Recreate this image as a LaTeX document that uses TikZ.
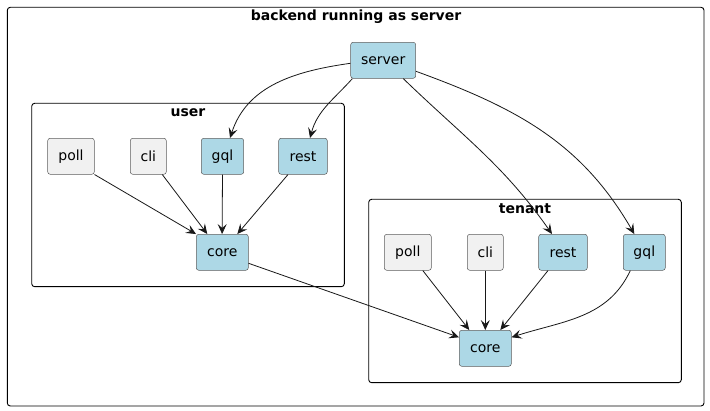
\documentclass[tikz,border=0pt]{standalone}
\usepackage{fontspec}
\setmainfont{DejaVu Sans}
\usetikzlibrary{arrows.meta}
\definecolor{svc}{HTML}{ADD8E6}
\definecolor{plain}{HTML}{F1F1F1}
\definecolor{ink}{HTML}{181818}
\tikzset{
  x=1pt, y=-1pt,
  comp/.style={draw=ink!70, line width=0.5pt, rounded corners=2.5pt,
    minimum height=36pt, inner sep=0pt, font=\fontsize{14}{16}\selectfont, text=black},
  svcbox/.style={comp, fill=svc},
  plainbox/.style={comp, fill=plain},
  frame/.style={draw=black, line width=0.9pt, rounded corners=3pt},
  frametitle/.style={font=\fontsize{14}{16}\selectfont\bfseries, inner sep=0pt},
  link/.style={draw=ink, line width=0.8pt, -{Stealth[length=10pt,width=9pt,inset=4pt]}}
}
\begin{document}
\begin{tikzpicture}
\useasboundingbox (0,0) rectangle (710,411);
\fill[white] (0,0) rectangle (710,411);

% package frames
\draw[frame] (7.3,7.3) rectangle (704,406);
\node[frametitle] (outertitle) at (356,17) {backend running as server};
\draw[frame] (31.7,103.3) rectangle (344.3,286.7);
\node[frametitle] (usertitle) at (188,113) {user};
\draw[frame] (368.7,199.3) rectangle (681.3,382.7);
\node[frametitle] (tenanttitle) at (525,209) {tenant};

% components
\node[svcbox, minimum width=65pt] (server) at (383.2,60.3) {server};

\node[plainbox, minimum width=46.6pt] (upoll) at (71,156.3) {poll};
\node[plainbox, minimum width=36pt] (ucli) at (148.3,156.3) {cli};
\node[svcbox, minimum width=42.4pt] (ugql) at (222.5,156.3) {gql};
\node[svcbox, minimum width=48.6pt] (urest) at (303,156.3) {rest};
\node[svcbox, minimum width=52pt] (ucore) at (222.3,252.3) {core};

\node[plainbox, minimum width=47pt] (tpoll) at (407.8,252.3) {poll};
\node[plainbox, minimum width=36pt] (tcli) at (485.3,252.3) {cli};
\node[svcbox, minimum width=48.6pt] (trest) at (563,252.3) {rest};
\node[svcbox, minimum width=42pt] (tgql) at (644.3,252.3) {gql};
\node[svcbox, minimum width=52pt] (tcore) at (485.3,348.3) {core};

% server fan-out
\draw[link] ([yshift=-3pt]server.west) to[out=188,in=72] ([xshift=7.5pt]ugql.north);
\draw[link] ([xshift=2pt]server.south west) to[out=228,in=75] ([xshift=7pt]urest.north);
\draw[link] ([xshift=20pt]server.south) to[out=-44,in=125] ([xshift=-11pt]trest.north);
\draw[link] ([yshift=-11pt]server.east) to[out=-20,in=120] ([xshift=-10pt]tgql.north);

% user package
\draw[link] (upoll.south east) -- (ucore.north west);
\draw[link] ([xshift=14pt]ucli.south) -- ([xshift=-15pt]ucore.north);
\draw[link] (ugql.south) -- ([xshift=-0.2pt]ucore.north);
\draw[link] ([xshift=-15pt]urest.south) -- ([xshift=15pt]ucore.north);

% cross-package
\draw[link] ([yshift=-11pt]ucore.east) -- ([yshift=11pt]tcore.west);

% tenant package
\draw[link] ([xshift=15pt]tpoll.south) -- ([xshift=-16pt]tcore.north);
\draw[link] (tcli.south) -- (tcore.north);
\draw[link] ([xshift=-15pt]trest.south) -- ([xshift=15pt]tcore.north);
\draw[link] ([xshift=-14pt]tgql.south) to[out=245,in=18] ([yshift=11pt]tcore.east);
\end{tikzpicture}
\end{document}
